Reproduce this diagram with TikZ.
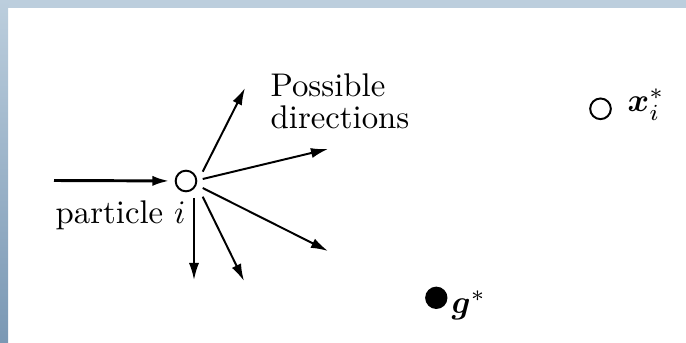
\documentclass[tikz,border=0pt]{standalone}
\usepackage{amsmath}
\usetikzlibrary{arrows.meta}
\definecolor{frametop}{RGB}{188,206,221}
\definecolor{frameleft}{RGB}{122,152,180}
\begin{document}
\begin{tikzpicture}[x=0.305pt, y=-0.305pt,
    ray/.style={-{Latex[length=5.2pt,width=3.1pt]}, line width=0.6pt},
    spot/.style={circle, draw, line width=0.6pt, inner sep=0pt, minimum size=6.3pt},
    label/.style={inner sep=0pt}]
    \useasboundingbox (0,0) rectangle (686,343);
    \fill[frametop] (0,0) rectangle (686,8);
    \shade[top color=frametop, bottom color=frameleft] (0,0) rectangle (8,343);
    % the particle and where it may go next
    \node[spot] (p) at (186,181) {};
    \coordinate (come) at (54,180.5);
    \draw[-{Latex[length=5.2pt,width=3.1pt]}, line width=0.9pt, shorten >=1.6pt] (come) -- (p);
    \coordinate (d1) at (245,88);
    \coordinate (d2) at (328,149);
    \coordinate (d3) at (328,251);
    \coordinate (d4) at (244,281);
    \coordinate (d5) at (194,280);
    \draw[ray] ([shift={(16.7,-9.3)}]p.center) -- (d1);
    \draw[ray] ([shift={(16.7,-2)}]p.center) -- (d2);
    \draw[ray] ([shift={(16.7,7)}]p.center) -- (d3);
    \draw[ray] ([shift={(16.7,15.7)}]p.center) -- (d4);
    \draw[ray] ([shift={(8,17)}]p.center) -- (d5);
    \node[label, anchor=base west] (plab) at (55,224) {particle $i$};
    \node[label, anchor=base west, align=left, font=\fontsize{10pt}{9.7pt}\selectfont]
        (dlab) at (270,128.3) {Possible\\directions};
    % best positions
    \node[spot] (xbest) at (600.5,108.8) {};
    \node[label, anchor=base west] (xlab) at (627,111.5) {$\boldsymbol{x}_i^*$};
    \node[spot, fill=black, minimum size=6.2pt] (gbest) at (436.3,297.8) {};
    \node[label, anchor=base west] (glab) at (451,313) {$\boldsymbol{g}^*$};
\end{tikzpicture}
\end{document}
